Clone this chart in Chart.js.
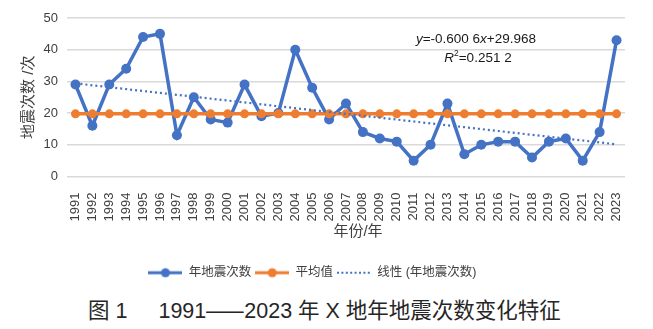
<!DOCTYPE html>
<html lang="zh">
<head>
<meta charset="utf-8">
<title>年地震次数变化特征</title>
<script src="https://cdn.jsdelivr.net/npm/chart.js@4/dist/chart.umd.min.js"></script>
<style>
  html, body { margin: 0; padding: 0; background: #fff; }
  #wrap { position: relative; width: 653px; height: 329px; overflow: hidden; }
  #quakeChart { position: absolute; left: 0; top: 0; }
  #caption {
    position: absolute; left: 88px; top: 298px;
    font-family: "Liberation Sans", "Noto Sans CJK SC", sans-serif;
    font-size: 21.5px; line-height: 26px; color: #262626; white-space: nowrap;
  }
  #caption .gap { display: inline-block; width: 31px; }
  #caption .dash { display: inline-block; width: 38px; }
  #caption .dash span { display: inline-block; transform-origin: left center; transform: scaleX(1.75); }
</style>
</head>
<body>
<div id="wrap">
  <canvas id="quakeChart" width="653" height="290"></canvas>
  <div id="caption">图 1<span class="gap"></span>1991<span class="dash"><span>—</span></span>2023 年 X 地年地震次数变化特征</div>
</div>
<script>
// Years on the category axis
const years = ['1991','1992','1993','1994','1995','1996','1997','1998','1999','2000',
               '2001','2002','2003','2004','2005','2006','2007','2008','2009','2010',
               '2011','2012','2013','2014','2015','2016','2017','2018','2019','2020',
               '2021','2022','2023'];

// Annual earthquake counts
const quakeCounts = [29, 16, 29, 34, 44, 45, 13, 25, 18, 17,
                     29, 19, 20, 40, 28, 18, 23, 14, 12, 11,
                      5, 10, 23,  7, 10, 11, 11,  6, 11, 12,
                      5, 14, 43];

// Value axis ticks
const yTicks = [0, 10, 20, 30, 40, 50];

// Linear trend fitted on year index (1..n)
const trendSlope = -0.6006;
const trendIntercept = 29.968;
const trendR2 = 0.2512;

// Series derived from the counts and the trend equation
const meanCount = quakeCounts.reduce((a, b) => a + b, 0) / quakeCounts.length;
const meanSeries = quakeCounts.map(() => meanCount);
const trendSeries = years.map((_, i) => trendIntercept + trendSlope * (i + 1));

const FONT = '"Liberation Sans", "Noto Sans CJK SC", sans-serif';
const BLUE = '#4472C4';
const ORANGE = '#ED7D31';
const TEXT = '#404040';

// Small line-with-marker swatches for the legend
function legendKey(color, width, dotRadius, dash) {
  const c = document.createElement('canvas');
  c.width = 34; c.height = 12;
  const g = c.getContext('2d');
  g.strokeStyle = color; g.lineWidth = width;
  if (dash) g.setLineDash(dash);
  g.beginPath(); g.moveTo(0, 6); g.lineTo(34, 6); g.stroke();
  if (dotRadius) {
    g.fillStyle = color;
    g.beginPath(); g.arc(17, 6, dotRadius, 0, Math.PI * 2); g.fill();
  }
  return c;
}
const legendKeys = [
  legendKey(BLUE, 3, 4.5),
  legendKey(ORANGE, 3, 4.5),
  legendKey(BLUE, 2, 0, [2, 2.4])
];

// Groups decimals in threes: 0.6006 -> "0.600 6"
function fmtCoef(v) {
  const s = Math.abs(v).toString();
  const [ip, dp = ''] = s.split('.');
  const groups = dp.match(/.{1,3}/g) || [];
  return (v < 0 ? '-' : '') + ip + (groups.length ? '.' + groups.join(' ') : '');
}

function drawRich(ctx, parts, cx, cy, size) {
  const fontFor = p => (p.italic ? 'italic ' : '') + (p.sup ? size * 0.62 : size) + 'px ' + FONT;
  let total = 0;
  parts.forEach(p => { ctx.font = fontFor(p); p.w = ctx.measureText(p.t).width; total += p.w; });
  let x = cx - total / 2;
  parts.forEach(p => {
    ctx.font = fontFor(p);
    ctx.fillText(p.t, x, p.sup ? cy - size * 0.35 : cy);
    x += p.w;
  });
}

// Trend equation, R² and the horizontal axis title
const overlayText = {
  id: 'overlayText',
  afterDraw(chart) {
    const ctx = chart.ctx;
    ctx.save();
    ctx.fillStyle = '#1a1a1a';
    ctx.textBaseline = 'middle';
    ctx.textAlign = 'left';
    drawRich(ctx, [
      { t: 'y', italic: true },
      { t: '=' + fmtCoef(trendSlope) },
      { t: 'x', italic: true },
      { t: '+' + fmtCoef(trendIntercept) }
    ], 476, 39, 13.5);
    drawRich(ctx, [
      { t: 'R', italic: true },
      { t: '2', sup: true },
      { t: '=' + fmtCoef(trendR2) }
    ], 478, 58, 13.5);

    ctx.fillStyle = TEXT;
    ctx.textAlign = 'center';
    ctx.font = '15px ' + FONT;
    ctx.fillText('年份/年', 358, 232);
    ctx.restore();
  }
};

new Chart(document.getElementById('quakeChart'), {
  type: 'line',
  data: {
    labels: years,
    datasets: [
      {
        label: '年地震次数',
        data: quakeCounts,
        borderColor: BLUE,
        backgroundColor: BLUE,
        borderWidth: 3.5,
        pointRadius: 5,
        pointBorderWidth: 0,
        tension: 0,
        order: 3
      },
      {
        label: '平均值',
        data: meanSeries,
        borderColor: ORANGE,
        backgroundColor: ORANGE,
        borderWidth: 3.5,
        pointRadius: 4.5,
        pointBorderWidth: 0,
        tension: 0,
        order: 2
      },
      {
        label: '线性 (年地震次数)',
        data: trendSeries,
        borderColor: BLUE,
        backgroundColor: BLUE,
        borderWidth: 2.2,
        borderDash: [2, 3],
        pointRadius: 0,
        tension: 0,
        order: 1
      }
    ]
  },
  options: {
    responsive: false,
    animation: false,
    layout: { padding: { left: 0, right: 28, top: 18, bottom: 1 } },
    plugins: {
      tooltip: { enabled: false },
      legend: {
        position: 'bottom',
        labels: {
          usePointStyle: true,
          pointStyleWidth: 34,
          padding: 4,
          color: TEXT,
          font: { size: 12.5, family: FONT },
          sort: (a, b) => a.datasetIndex - b.datasetIndex,
          generateLabels(chart) {
            const items = Chart.defaults.plugins.legend.labels.generateLabels(chart);
            items.forEach(it => { it.pointStyle = legendKeys[it.datasetIndex]; });
            return items;
          }
        }
      }
    },
    scales: {
      x: {
        offset: true,
        grid: { display: false, offset: true },
        border: { display: false },
        ticks: {
          autoSkip: false,
          minRotation: 90,
          maxRotation: 90,
          padding: 8,
          color: TEXT,
          font: { size: 13, family: FONT }
        },
        afterFit(scale) { scale.height = 86; }
      },
      y: {
        min: yTicks[0],
        max: yTicks[yTicks.length - 1],
        border: { display: false },
        grid: { color: '#d9d9d9', lineWidth: 1.5, drawTicks: false },
        ticks: {
          stepSize: yTicks[1] - yTicks[0],
          padding: 9,
          color: TEXT,
          font: { size: 13, family: FONT }
        },
        title: {
          display: true,
          text: '地震次数 /次',
          color: TEXT,
          font: { size: 15, family: FONT },
          padding: { top: 20, bottom: 0 }
        },
        afterFit(scale) { scale.width = 67; }
      }
    }
  },
  plugins: [overlayText]
});
</script>
</body>
</html>
